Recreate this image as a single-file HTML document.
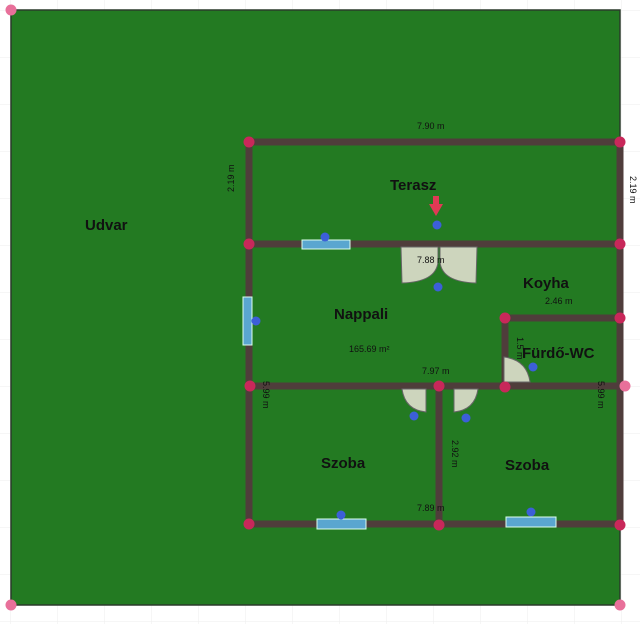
<!DOCTYPE html>
<html><head><style>
html,body{margin:0;padding:0;background:#fff;}
svg{display:block;font-family:"Liberation Sans",sans-serif;}
</style></head><body>
<svg width="640" height="624" viewBox="0 0 640 624">
<defs><pattern id="g" width="47" height="47" patternUnits="userSpaceOnUse" x="10" y="10"><path d="M0 0H47M0 0V47" stroke="#eee" fill="none"/></pattern></defs>
<rect width="640" height="624" fill="url(#g)"/>
<rect x="11" y="10" width="609" height="595" fill="#237a22" stroke="#2b3a2b" stroke-width="1.5"/>
<g stroke="#4f3d3b" stroke-width="7" stroke-linecap="square">
<line x1="249" y1="142" x2="620" y2="142"/>
<line x1="249" y1="244" x2="620" y2="244"/>
<line x1="249" y1="386" x2="620" y2="386"/>
<line x1="249" y1="524" x2="620" y2="524"/>
<line x1="249" y1="142" x2="249" y2="524"/>
<line x1="620" y1="142" x2="620" y2="524"/>
<line x1="439" y1="386" x2="439" y2="524"/>
<line x1="505" y1="318" x2="505" y2="386"/>
<line x1="505" y1="318" x2="620" y2="318"/>
</g>
<g fill="#5aa6d0" stroke="#dfe" stroke-width="1">
<rect x="302" y="240" width="48" height="9"/>
<rect x="243" y="297" width="9" height="48"/>
<rect x="317" y="519" width="49" height="10"/>
<rect x="506" y="517" width="50" height="10"/>
</g>
<g fill="#cdd5bd" stroke="#666" stroke-width="1">
<path d="M401 247 H438 V262 Q436 282 402 283 Z"/>
<path d="M477 247 H440 V262 Q442 282 476 283 Z"/>
<path d="M402 389 H426 V412 Q405 410 402 389 Z"/>
<path d="M478 389 H454 V412 Q475 410 478 389 Z"/>
<path d="M504 357 V382 H530 Q527 360 504 357 Z"/>
</g>
<path d="M433 196 h6 v8 h4 l-7 12 l-7 -12 h4 z" fill="#e03a55"/>
<g fill="#3c5fd8">
<circle cx="325" cy="237" r="4.5"/><circle cx="437" cy="225" r="4.5"/><circle cx="438" cy="287" r="4.5"/>
<circle cx="256" cy="321" r="4.5"/><circle cx="533" cy="367" r="4.5"/><circle cx="414" cy="416" r="4.5"/>
<circle cx="466" cy="418" r="4.5"/><circle cx="341" cy="515" r="4.5"/><circle cx="531" cy="512" r="4.5"/>
</g>
<g fill="#c8285a">
<circle cx="249" cy="142" r="5.5"/><circle cx="620" cy="142" r="5.5"/>
<circle cx="249" cy="244" r="5.5"/><circle cx="620" cy="244" r="5.5"/>
<circle cx="505" cy="318" r="5.5"/><circle cx="620" cy="318" r="5.5"/>
<circle cx="250" cy="386" r="5.5"/><circle cx="439" cy="386" r="5.5"/><circle cx="505" cy="387" r="5.5"/>
<circle cx="249" cy="524" r="5.5"/><circle cx="439" cy="525" r="5.5"/><circle cx="620" cy="525" r="5.5"/>
</g>
<g fill="#e8709a"><circle cx="11" cy="10" r="5.5"/><circle cx="625" cy="386" r="5.5"/><circle cx="11" cy="605" r="5.5"/><circle cx="620" cy="605" r="5.5"/></g>
<g font-weight="bold" font-size="15" fill="#111">
<text x="85" y="230">Udvar</text>
<text x="390" y="190">Terasz</text>
<text x="334" y="319">Nappali</text>
<text x="523" y="288">Koyha</text>
<text x="522" y="358">Fürdő-WC</text>
<text x="321" y="468">Szoba</text>
<text x="505" y="470">Szoba</text>
</g>
<g font-size="9" fill="#111">
<text x="417" y="129">7.90 m</text>
<text x="417" y="263">7.88 m</text>
<text x="545" y="304">2.46 m</text>
<text x="349" y="352">165.69 m²</text>
<text x="422" y="374">7.97 m</text>
<text x="417" y="511">7.89 m</text>
<text transform="translate(234,192) rotate(-90)">2.19 m</text>
<text transform="translate(630,176) rotate(90)">2.19 m</text>
<text transform="translate(263,381) rotate(90)">5.99 m</text>
<text transform="translate(598,381) rotate(90)">5.99 m</text>
<text transform="translate(452,440) rotate(90)">2.92 m</text>
<text transform="translate(517,337) rotate(90)">1.5 m</text>
</g>
</svg>
</body></html>
